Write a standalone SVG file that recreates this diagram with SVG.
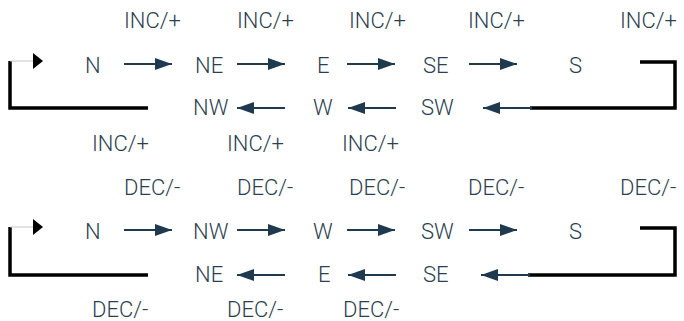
<svg xmlns="http://www.w3.org/2000/svg" width="684" height="321" viewBox="0 0 684 321">
  <defs>
    <style>
      text { font-family: Roboto, "Noto Sans", sans-serif; font-size: 22px; font-weight: 300; fill: #2b3f51; }
      .flow { stroke: #1f3a4f; stroke-width: 2.2; fill: none; }
      .loop { stroke: #000; stroke-width: 3.5; fill: none; }
      .thin { stroke: #c8c8c8; stroke-width: 1; fill: none; }
    </style>
    <marker id="head" viewBox="0 0 17 12" refX="17" refY="6" markerWidth="17" markerHeight="12" markerUnits="userSpaceOnUse" orient="auto">
      <path d="M0,0 L17,6 L0,12 Z" fill="#1f3a4f"/>
    </marker>
  </defs>
  <rect width="684" height="321" fill="#fff"/>

  <!-- upper cycle: increment -->
  <g id="inc-labels">
    <text x="124" y="28">INC/+</text>
    <text x="237" y="28">INC/+</text>
    <text x="349" y="28">INC/+</text>
    <text x="468" y="28">INC/+</text>
    <text x="620" y="28">INC/+</text>
    <text x="92" y="151">INC/+</text>
    <text x="227" y="151">INC/+</text>
    <text x="342" y="151">INC/+</text>
  </g>
  <g id="inc-N"><text x="85" y="73">N</text></g>
  <g id="inc-NE"><text x="195" y="73">NE</text></g>
  <g id="inc-E"><text x="317" y="73">E</text></g>
  <g id="inc-SE"><text x="423" y="73">SE</text></g>
  <g id="inc-S"><text x="569" y="73">S</text></g>
  <g id="inc-NW"><text x="193" y="115">NW</text></g>
  <g id="inc-W"><text x="313" y="115">W</text></g>
  <g id="inc-SW"><text x="421" y="115">SW</text></g>

  <!-- lower cycle: decrement -->
  <g id="dec-labels">
    <text x="124" y="195">DEC/-</text>
    <text x="237" y="195">DEC/-</text>
    <text x="349" y="195">DEC/-</text>
    <text x="468" y="195">DEC/-</text>
    <text x="620" y="195">DEC/-</text>
    <text x="92" y="317">DEC/-</text>
    <text x="227" y="317">DEC/-</text>
    <text x="343" y="317">DEC/-</text>
  </g>
  <g id="dec-N"><text x="85" y="239">N</text></g>
  <g id="dec-NW"><text x="193" y="239">NW</text></g>
  <g id="dec-W"><text x="313" y="239">W</text></g>
  <g id="dec-SW"><text x="421" y="239">SW</text></g>
  <g id="dec-S"><text x="569" y="239">S</text></g>
  <g id="dec-NE"><text x="195" y="282">NE</text></g>
  <g id="dec-E"><text x="318" y="282">E</text></g>
  <g id="dec-SE"><text x="423" y="282">SE</text></g>

  <g id="connectors">
    <!-- upper cycle -->
    <line class="flow" x1="124" y1="64" x2="172" y2="64" marker-end="url(#head)"/>
    <line class="flow" x1="237" y1="64" x2="285" y2="64" marker-end="url(#head)"/>
    <line class="flow" x1="347" y1="64" x2="395" y2="64" marker-end="url(#head)"/>
    <line class="flow" x1="469" y1="64" x2="517" y2="64" marker-end="url(#head)"/>
    <line class="flow" x1="285" y1="108" x2="237" y2="108" marker-end="url(#head)"/>
    <line class="flow" x1="396" y1="108" x2="348" y2="108" marker-end="url(#head)"/>
    <polyline class="loop" points="640,62 675,62 675,108 530,108"/>
    <line class="flow" x1="532" y1="108" x2="483" y2="108" marker-end="url(#head)"/>
    <polyline class="loop" points="148,108 10,108 10,61"/>
    <line class="thin" x1="10" y1="61" x2="33" y2="61"/>
    <path d="M33,53 L43,61 L33,69 Z" fill="#000"/>

    <!-- lower cycle -->
    <line class="flow" x1="124" y1="230" x2="172" y2="230" marker-end="url(#head)"/>
    <line class="flow" x1="237" y1="230" x2="285" y2="230" marker-end="url(#head)"/>
    <line class="flow" x1="347" y1="230" x2="395" y2="230" marker-end="url(#head)"/>
    <line class="flow" x1="469" y1="230" x2="517" y2="230" marker-end="url(#head)"/>
    <line class="flow" x1="285" y1="275" x2="237" y2="275" marker-end="url(#head)"/>
    <line class="flow" x1="396" y1="275" x2="348" y2="275" marker-end="url(#head)"/>
    <polyline class="loop" points="640,228 675,228 675,275 528,275"/>
    <line class="flow" x1="530" y1="275" x2="481" y2="275" marker-end="url(#head)"/>
    <polyline class="loop" points="148,275 10,275 10,227"/>
    <line class="thin" x1="10" y1="227" x2="33" y2="227"/>
    <path d="M33,219 L43,227 L33,235 Z" fill="#000"/>
  </g>
</svg>
